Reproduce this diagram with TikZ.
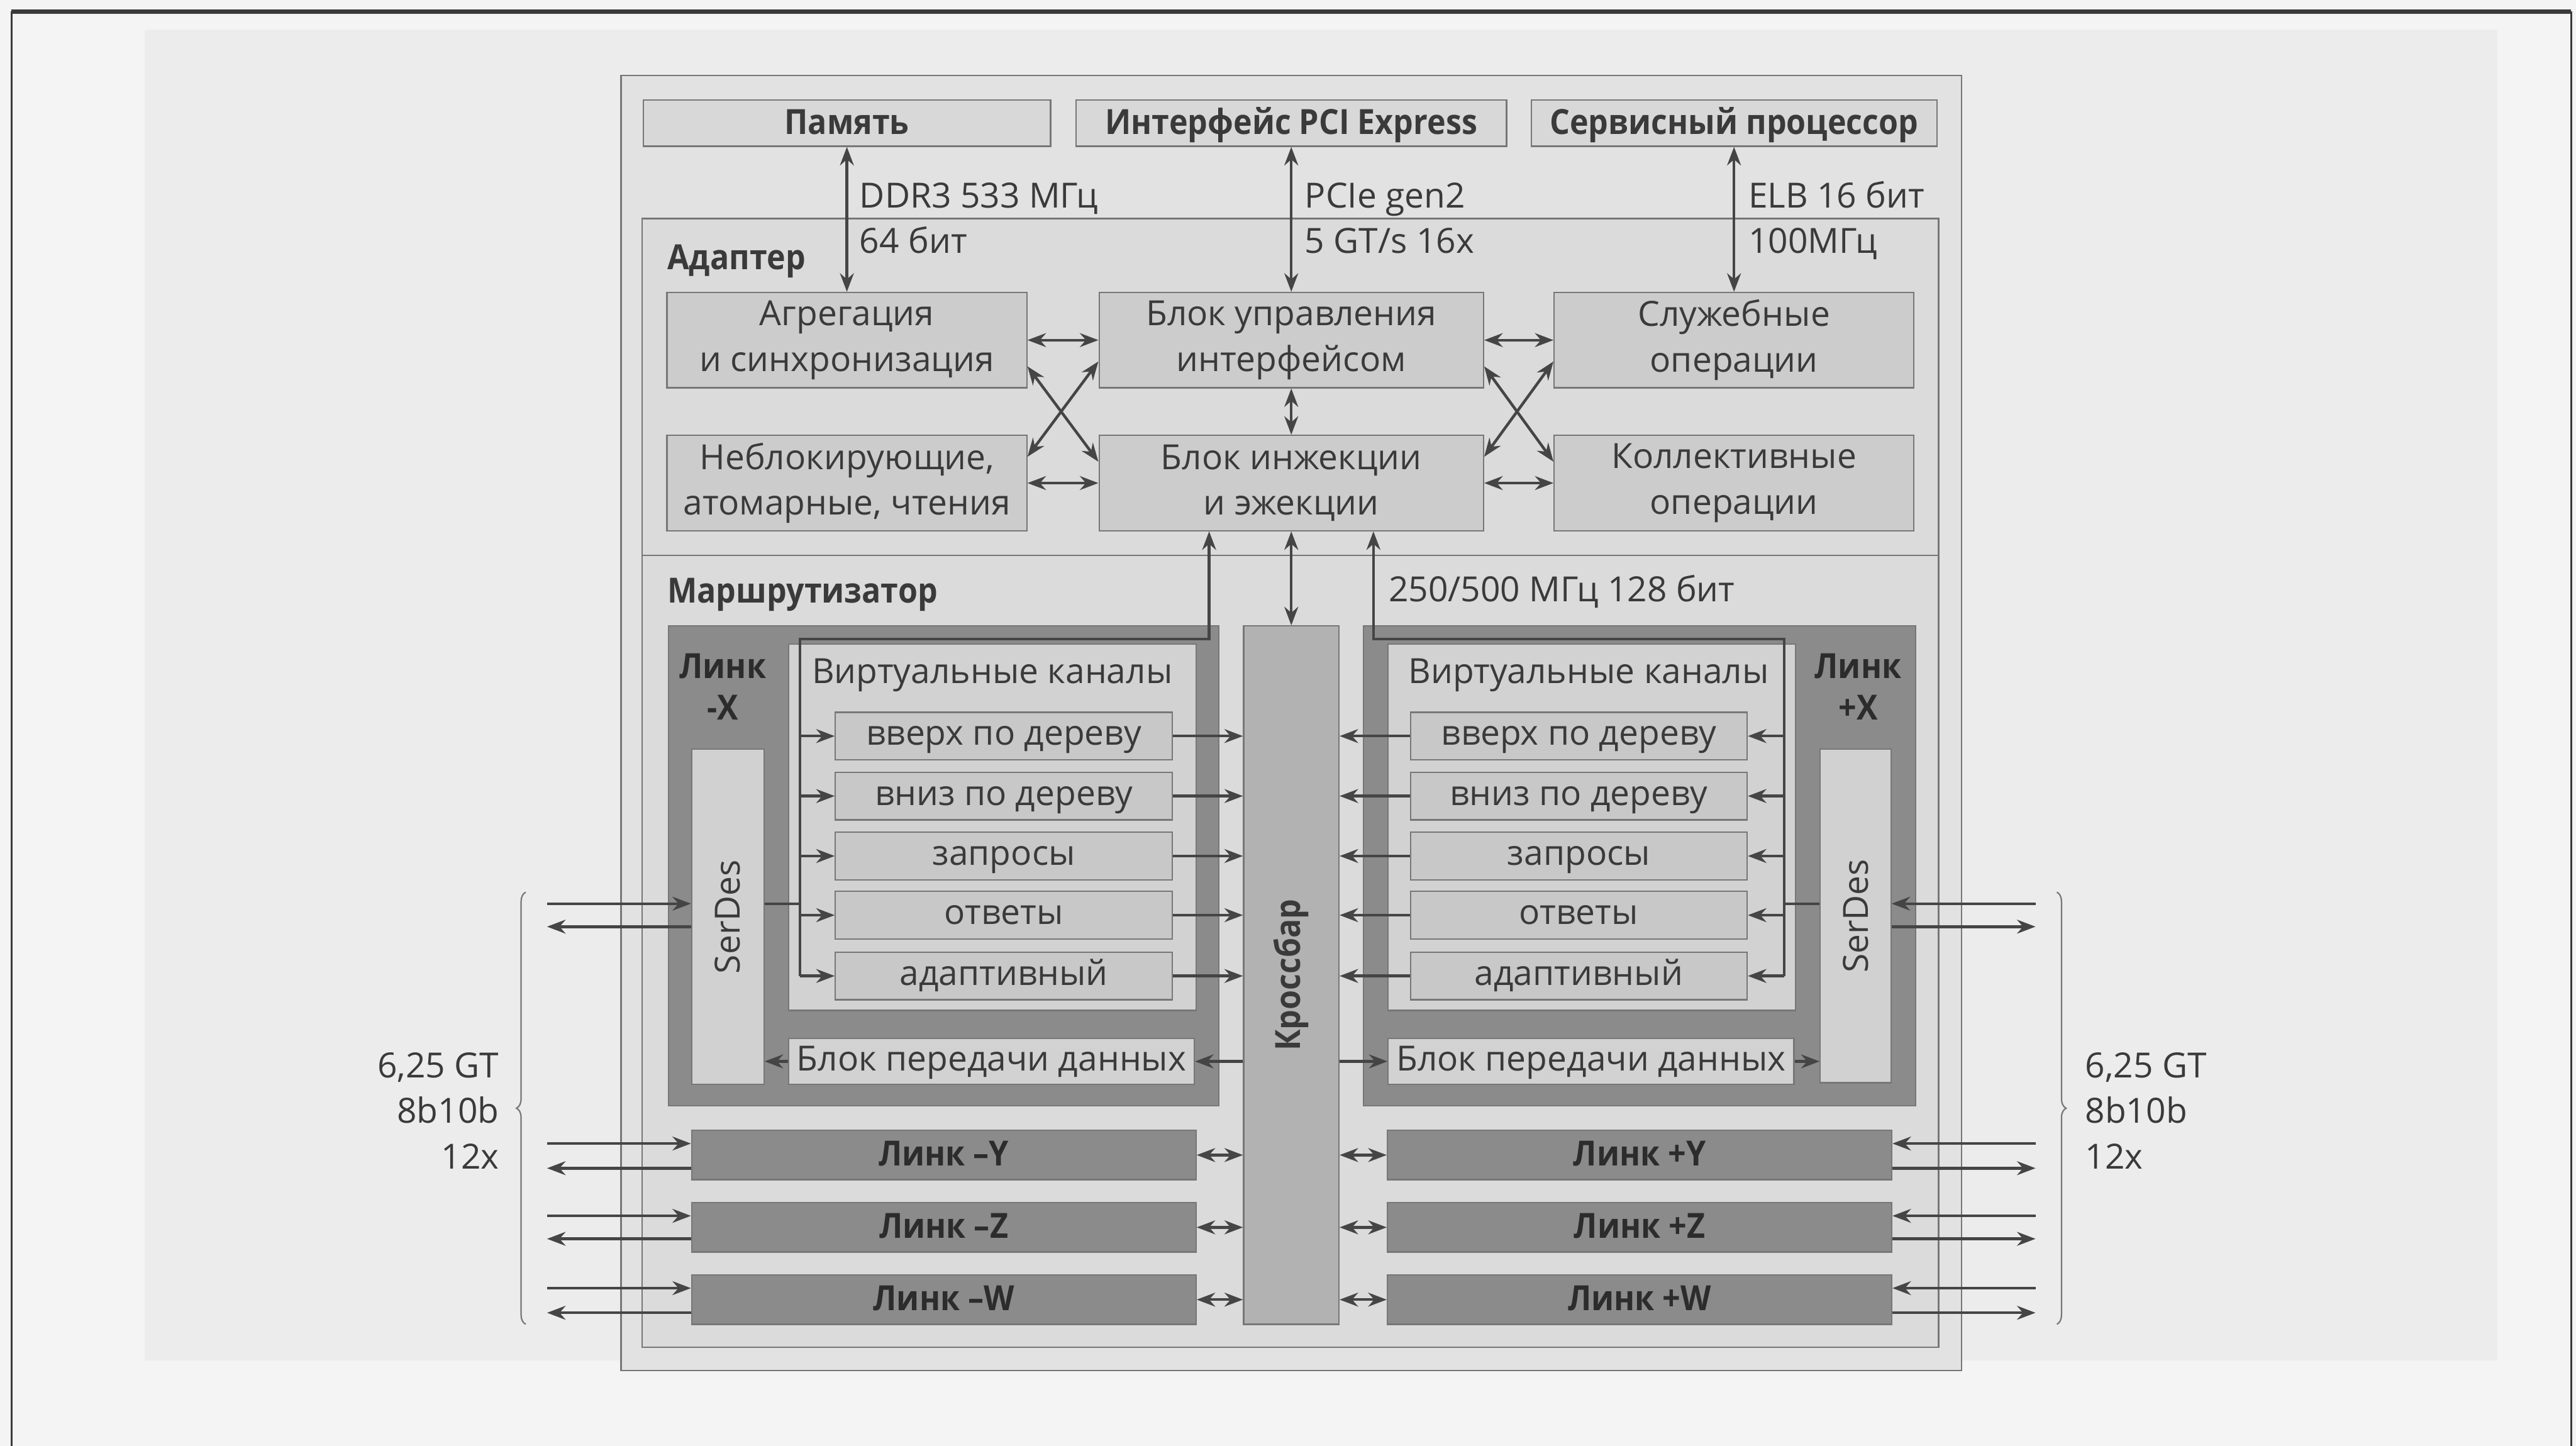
\documentclass[tikz,border=0pt]{standalone}
\usepackage{fontspec}
\setmainfont{Open Sans}[BoldFeatures={FakeStretch=0.91}]
\usepackage{graphicx}
\usetikzlibrary{arrows.meta,calc,decorations.pathreplacing}

\definecolor{ink}{HTML}{3A3A3A}
\definecolor{wirec}{HTML}{454545}
\definecolor{edge}{HTML}{777777}
\definecolor{pagebg}{HTML}{F4F4F4}
\definecolor{scanbg}{HTML}{ECECEC}
\definecolor{outerfill}{HTML}{E2E2E2}
\definecolor{regfill}{HTML}{DBDBDB}
\definecolor{topfill}{HTML}{D8D8D8}
\definecolor{blkfill}{HTML}{CCCCCC}
\definecolor{lnkfill}{HTML}{8B8B8B}
\definecolor{lnktext}{HTML}{2C2C2C}
\definecolor{vcfill}{HTML}{D2D2D2}
\definecolor{chanfill}{HTML}{C8C8C8}
\definecolor{serfill}{HTML}{D1D1D1}
\definecolor{xbfill}{HTML}{B2B2B2}

\newcommand{\dfont}{\fontsize{15}{19.8}\selectfont}

\begin{document}
\begin{tikzpicture}[x=0.025cm,y=-0.025cm,>={Stealth[length=8pt,width=6pt]},
  font=\dfont, text=ink,
  box/.style 2 args={draw=edge, line width=0.6pt, inner sep=0pt, align=center,
    minimum width=#1*0.025cm, minimum height=#2*0.025cm},
  lowline/.style={text height=11pt, text depth=3pt},
  capline/.style={text height=12pt, text depth=2.6pt},
  bold/.style={font=\dfont\bfseries},
  lbl/.style={anchor=base west, inner sep=0pt},
  chan/.style={box={205}{29}, fill=chanfill, lowline},
  lnkbox/.style={box={307}{30}, fill=lnkfill, bold, text=lnktext, capline},
  wire/.style={draw=wirec, line width=1.2pt},
  region/.style={draw=edge, line width=0.6pt}]
  \useasboundingbox (0,0) rectangle (1568,880);
  \fill[pagebg] (0,0) rectangle (1568,880);
  \fill[scanbg] (88,18) rectangle (1520,828);
  \draw[ink, line width=2pt] (7,7) -- (1565,7);
  \draw[ink, line width=0.8pt] (7,7) -- (7,880);
  \draw[ink, line width=0.8pt] (1565,7) -- (1565,880);

  % blocks
  \draw[region, fill=outerfill] (378,46) rectangle (1194,834);
  \draw[region, fill=regfill] (391,133) rectangle (1180,338);
  \draw[region, fill=regfill] (391,338) rectangle (1180,820);

  \node[box={248}{28}, fill=topfill, bold, capline] (mem) at (515.5,75) {Память};
  \node[box={262}{28}, fill=topfill, bold, capline] (pci) at (786,75) {Интерфейс PCI Express};
  \node[box={247}{28}, fill=topfill, bold, capline] (svp) at (1055.5,75) {Сервисный процессор};

  \node[lbl] (ddr) at (523,126.5) {DDR3 533 МГц};
  \node[lbl] (ddrw) at (523,154) {64 бит};
  \node[lbl] (pcig) at (794,126.5) {PCIe gen2};
  \node[lbl] (pcir) at (794,154) {5 GT/s 16x};
  \node[lbl] (elb) at (1064,126.5) {ELB 16 бит};
  \node[lbl] (elbf) at (1064,154) {100МГц};
  \node[lbl, bold] (adap) at (406,164) {Адаптер};

  \node[box={219}{58}, fill=blkfill] (agg) at (515.5,207) {Агрегация\\и синхронизация};
  \node[box={234}{58}, fill=blkfill] (ctl) at (786,207) {Блок управления\\интерфейсом};
  \node[box={219}{58}, fill=blkfill] (svc) at (1055.5,207) {Служебные\\операции};
  \node[box={219}{58}, fill=blkfill] (nbl) at (515.5,294) {Неблокирующие,\\атомарные, чтения};
  \node[box={234}{58}, fill=blkfill] (inj) at (786,294) {Блок инжекции\\и эжекции};
  \node[box={219}{58}, fill=blkfill] (col) at (1055.5,294) {Коллективные\\операции};

  \node[lbl, bold] (rout) at (406,367) {Маршрутизатор};
  \node[lbl] (clk) at (845,366) {250/500 МГц 128 бит};

  % link -X
  \node[box={335}{292}, fill=lnkfill] (lmx) at (574.5,527) {};
  \node[bold, text=lnktext, align=center, inner sep=0pt] (lmxl) at (440,418) {Линк\\[-2pt]-X};
  \node[box={248}{223}, fill=vcfill] (vcl) at (604,503.5) {};
  \node (vcll) at (604,411) {Виртуальные каналы};
  \node[chan] (ul) at (611,448) {вверх по дереву};
  \node[chan] (dl) at (611,484.5) {вниз по дереву};
  \node[chan] (ql) at (611,521) {запросы};
  \node[chan] (al) at (611,557) {ответы};
  \node[chan] (adl) at (611,594) {адаптивный};
  \node[box={44}{204}, fill=serfill] (serL) at (443,558) {\rotatebox{90}{SerDes}};
  \node[box={247}{28}, fill=vcfill, lowline] (bpl) at (603.5,646) {Блок передачи данных};

  % crossbar
  \node[box={58}{425}, fill=xbfill, bold] (xbar) at (786,593.5) {\rotatebox{90}{Кроссбар}};

  % link +X
  \node[box={336}{292}, fill=lnkfill] (lpx) at (998,527) {};
  \node[bold, text=lnktext, align=center, inner sep=0pt] (lpxl) at (1131,418) {Линк\\[-2pt]+X};
  \node[box={248}{223}, fill=vcfill] (vcr) at (969,503.5) {};
  \node (vcrl) at (967,411) {Виртуальные каналы};
  \node[chan] (ur) at (961,448) {вверх по дереву};
  \node[chan] (dr) at (961,484.5) {вниз по дереву};
  \node[chan] (qr) at (961,521) {запросы};
  \node[chan] (ar) at (961,557) {ответы};
  \node[chan] (adr) at (961,594) {адаптивный};
  \node[box={43}{203}, fill=serfill] (serR) at (1129.5,557.5) {\rotatebox{90}{SerDes}};
  \node[box={247}{28}, fill=vcfill, lowline] (bpr) at (968.5,646) {Блок передачи данных};

  % links Y Z W
  \node[lnkbox] (lmy) at (574.5,703) {Линк –Y};
  \node[lnkbox] (lmz) at (574.5,747) {Линк –Z};
  \node[lnkbox] (lmw) at (574.5,791) {Линк –W};
  \node[lnkbox] (lpy) at (998,703) {Линк +Y};
  \node[lnkbox] (lpz) at (998,747) {Линк +Z};
  \node[lnkbox] (lpw) at (998,791) {Линк +W};

  % adapter connections
  \draw[<->, wire] (agg.north |- mem.south) -- (agg.north);
  \draw[<->, wire] (pci) -- (ctl);
  \draw[<->, wire] (svp) -- (svc);
  \draw[<->, wire] (agg) -- (ctl);
  \draw[<->, wire] (ctl) -- (svc);
  \draw[<->, wire] (nbl) -- (inj);
  \draw[<->, wire] (inj) -- (col);
  \draw[<->, wire] (ctl) -- (inj);
  \draw[<->, wire] ($(agg.east)+(0,16)$) -- ($(inj.west)+(0,-13)$);
  \draw[<->, wire] ($(nbl.east)+(0,-16)$) -- ($(ctl.west)+(0,13)$);
  \draw[<->, wire] ($(ctl.east)+(0,16)$) -- ($(col.west)+(0,-13)$);
  \draw[<->, wire] ($(inj.east)+(0,-16)$) -- ($(svc.west)+(0,13)$);
  \draw[<->, wire] (inj) -- (xbar);

  % channel buses
  \coordinate (busL) at (487,389);
  \coordinate (tapL) at (736,389);
  \coordinate (busR) at (1086,389);
  \coordinate (tapR) at (836,389);
  \draw[->, wire] (busL |- adl) -- (busL) -- (tapL) -- (inj.south -| tapL);
  \draw[->, wire] (busR |- adr) -- (busR) -- (tapR) -- (inj.south -| tapR);

  \draw[->, wire] (busL |- ul) -- (ul);
  \draw[->, wire] (busL |- dl) -- (dl);
  \draw[->, wire] (busL |- ql) -- (ql);
  \draw[->, wire] (busL |- al) -- (al);
  \draw[->, wire] (busL |- adl) -- (adl);
  \draw[->, wire] (ul) -- (ul -| xbar.west);
  \draw[->, wire] (dl) -- (dl -| xbar.west);
  \draw[->, wire] (ql) -- (ql -| xbar.west);
  \draw[->, wire] (al) -- (al -| xbar.west);
  \draw[->, wire] (adl) -- (adl -| xbar.west);

  \draw[->, wire] (busR |- ur) -- (ur);
  \draw[->, wire] (busR |- dr) -- (dr);
  \draw[->, wire] (busR |- qr) -- (qr);
  \draw[->, wire] (busR |- ar) -- (ar);
  \draw[->, wire] (busR |- adr) -- (adr);
  \draw[->, wire] (ur) -- (ur -| xbar.east);
  \draw[->, wire] (dr) -- (dr -| xbar.east);
  \draw[->, wire] (qr) -- (qr -| xbar.east);
  \draw[->, wire] (ar) -- (ar -| xbar.east);
  \draw[->, wire] (adr) -- (adr -| xbar.east);

  \draw[->, wire] (bpl -| xbar.west) -- (bpl);
  \draw[->, wire] (bpl) -- (bpl -| serL.east);
  \draw[->, wire] (bpr -| xbar.east) -- (bpr);
  \draw[->, wire] (bpr) -- (bpr -| serR.west);

  \draw[<->, wire] (lmy) -- (lmy -| xbar.west);
  \draw[<->, wire] (lmz) -- (lmz -| xbar.west);
  \draw[<->, wire] (lmw) -- (lmw -| xbar.west);
  \draw[<->, wire] (lpy) -- (lpy -| xbar.east);
  \draw[<->, wire] (lpz) -- (lpz -| xbar.east);
  \draw[<->, wire] (lpw) -- (lpw -| xbar.east);

  % outside lanes
  \coordinate (xmi) at (333,550);  \coordinate (xmo) at (333,564);
  \coordinate (ymi) at (333,696);  \coordinate (ymo) at (333,711);
  \coordinate (zmi) at (333,740);  \coordinate (zmo) at (333,754);
  \coordinate (wmi) at (333,784);  \coordinate (wmo) at (333,799);
  \coordinate (xpi) at (1239,550); \coordinate (xpo) at (1239,564);
  \coordinate (ypi) at (1239,696); \coordinate (ypo) at (1239,711);
  \coordinate (zpi) at (1239,740); \coordinate (zpo) at (1239,754);
  \coordinate (wpi) at (1239,784); \coordinate (wpo) at (1239,799);

  \draw[->, wire] (xmi) -- (xmi -| serL.west);
  \draw[wire] (xmi -| serL.east) -- (xmi -| busL);
  \draw[<-, wire] (xmo) -- (xmo -| serL.west);
  \draw[->, wire] (ymi) -- (ymi -| lmy.west);
  \draw[<-, wire] (ymo) -- (ymo -| lmy.west);
  \draw[->, wire] (zmi) -- (zmi -| lmz.west);
  \draw[<-, wire] (zmo) -- (zmo -| lmz.west);
  \draw[->, wire] (wmi) -- (wmi -| lmw.west);
  \draw[<-, wire] (wmo) -- (wmo -| lmw.west);

  \draw[->, wire] (xpi) -- (xpi -| serR.east);
  \draw[wire] (xpi -| serR.west) -- (xpi -| busR);
  \draw[<-, wire] (xpo) -- (xpo -| serR.east);
  \draw[->, wire] (ypi) -- (ypi -| lpy.east);
  \draw[<-, wire] (ypo) -- (ypo -| lpy.east);
  \draw[->, wire] (zpi) -- (zpi -| lpz.east);
  \draw[<-, wire] (zpo) -- (zpo -| lpz.east);
  \draw[->, wire] (wpi) -- (wpi -| lpw.east);
  \draw[<-, wire] (wpo) -- (wpo -| lpw.east);

  % braces
  \draw[edge, line width=0.6pt, decorate, decoration={brace, amplitude=4pt}] (320,806) -- (320,543);
  \draw[edge, line width=0.6pt, decorate, decoration={brace, amplitude=4pt}] (1252,543) -- (1252,806);
  \node[anchor=east, align=right, inner sep=0pt] (rateL) at (304,676) {6,25 GT\\8b10b\\12x};
  \node[anchor=west, align=left, inner sep=0pt] (rateR) at (1269,676) {6,25 GT\\8b10b\\12x};
\end{tikzpicture}
\end{document}
